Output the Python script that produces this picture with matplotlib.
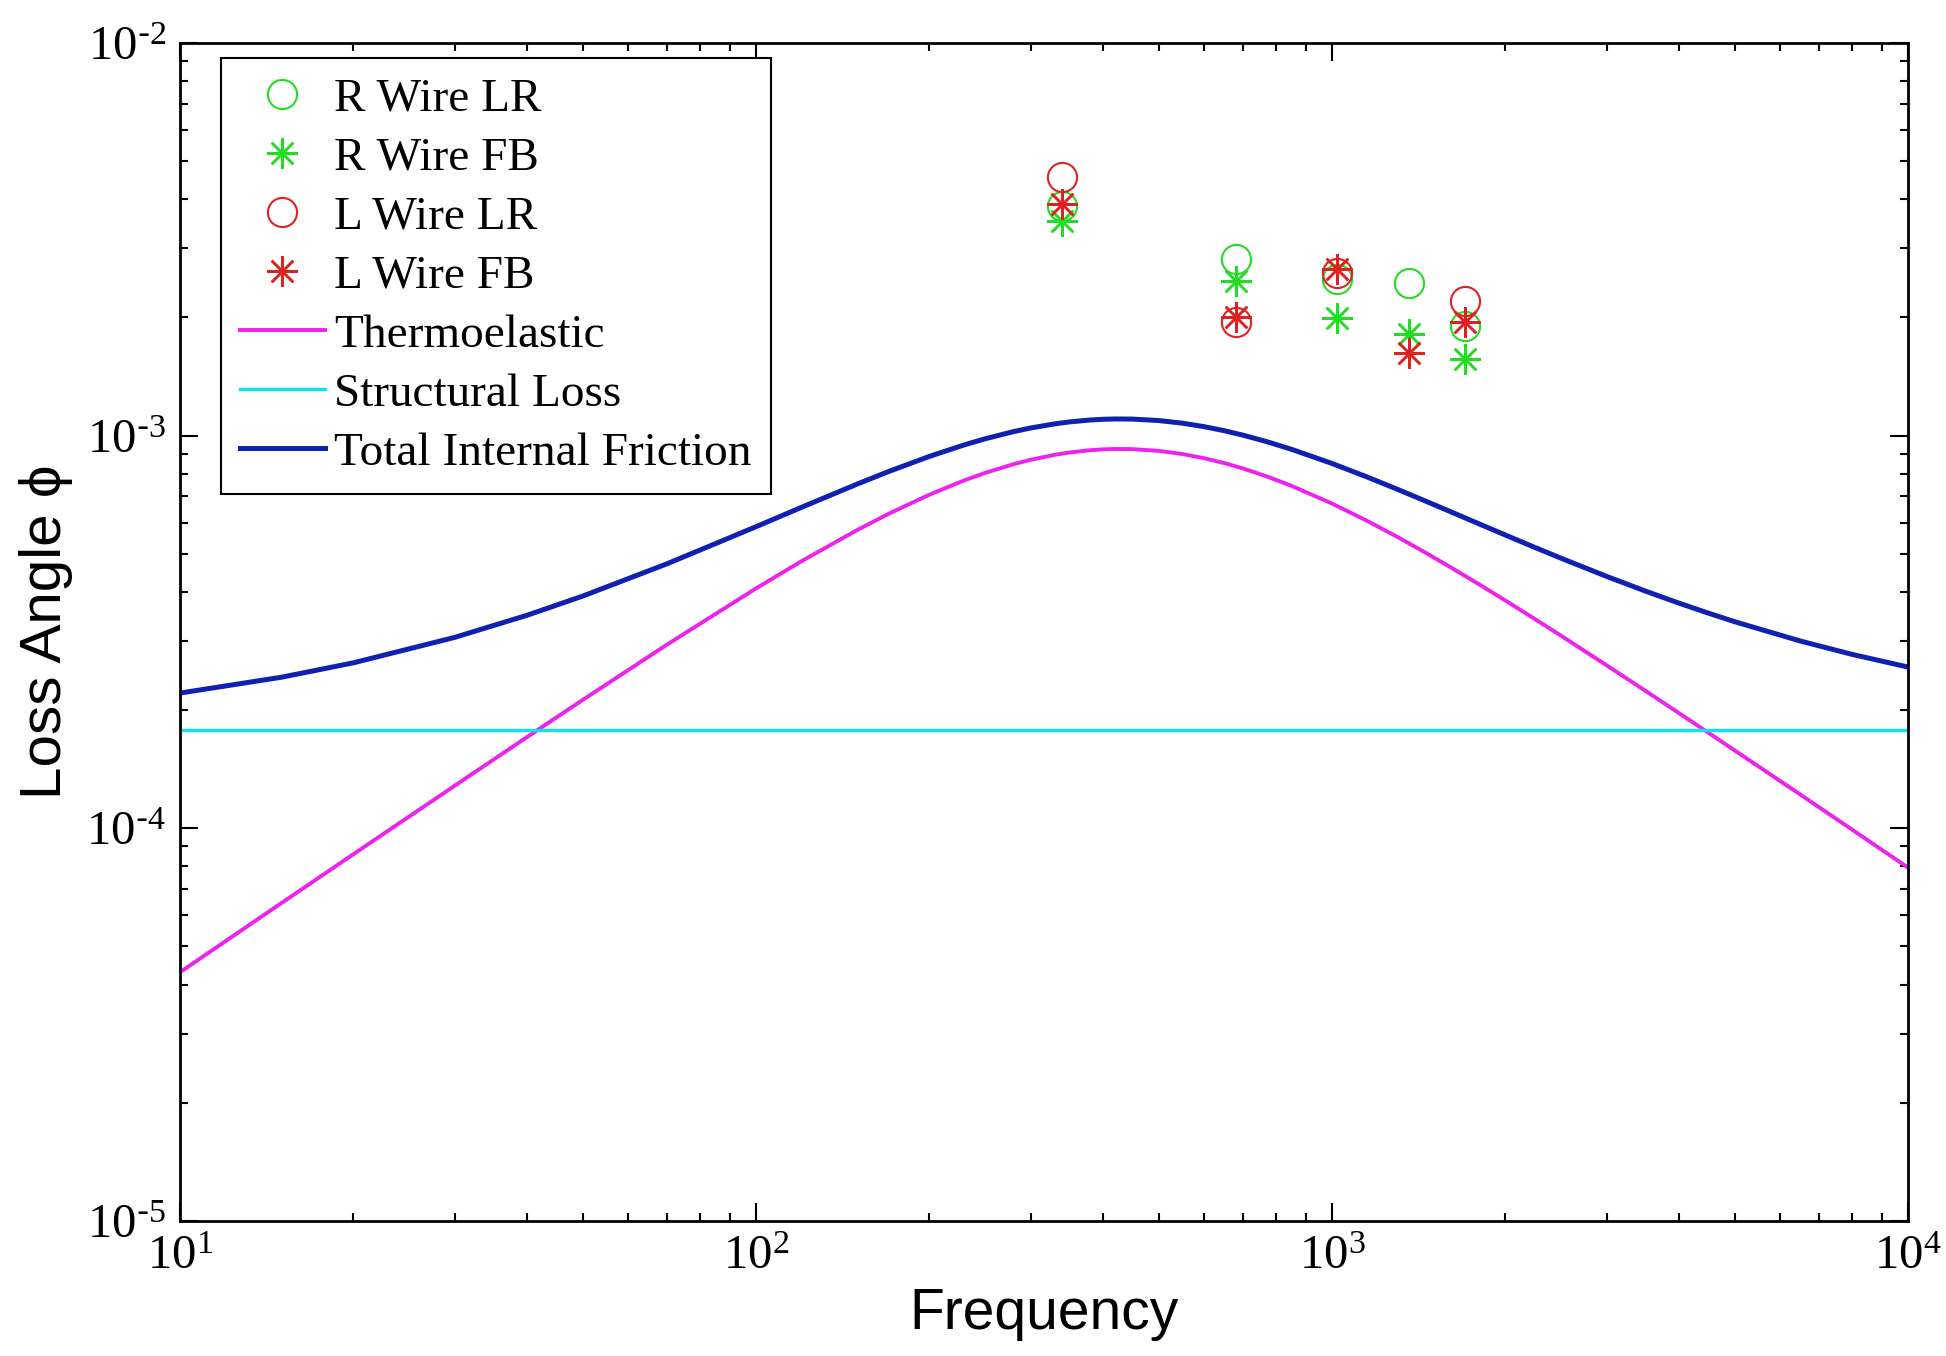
import numpy as np
import matplotlib.pyplot as plt
from matplotlib.ticker import FuncFormatter

# measured points (violin modes)
freq_pts = [340, 680, 1020, 1360, 1700]
r_wire_lr = [3.85e-3, 2.82e-3, 2.50e-3, 2.45e-3, 1.90e-3]
r_wire_fb = [3.52e-3, 2.47e-3, 1.99e-3, 1.82e-3, 1.57e-3]
l_wire_lr = [4.55e-3, 1.95e-3, 2.60e-3, np.nan, 2.20e-3]
l_wire_fb = [3.90e-3, 2.00e-3, 2.65e-3, 1.62e-3, 1.95e-3]

# curves
freq_curve = [10, 15, 20, 30, 40, 50, 70, 100, 120, 150, 170, 200, 230, 250, 280,
              300, 330, 350, 380, 400, 420, 450, 500, 550, 600, 650, 700, 770, 850,
              1000, 1150, 1300, 1450, 1600, 1800, 2000, 2250, 2500, 3000, 3500, 4000,
              4500, 5000, 6500, 8000, 10000]
thermoelastic = [4.30e-5, 6.45e-5, 8.59e-5, 1.284e-4, 1.706e-4, 2.122e-4, 2.934e-4,
                 4.082e-4, 4.790e-4, 5.753e-4, 6.325e-4, 7.074e-4, 7.694e-4, 8.039e-4,
                 8.460e-4, 8.681e-4, 8.935e-4, 9.057e-4, 9.180e-4, 9.226e-4, 9.247e-4,
                 9.240e-4, 9.146e-4, 8.977e-4, 8.759e-4, 8.513e-4, 8.251e-4, 7.875e-4,
                 7.452e-4, 6.714e-4, 6.069e-4, 5.516e-4, 5.043e-4, 4.637e-4, 4.181e-4,
                 3.802e-4, 3.411e-4, 3.091e-4, 2.598e-4, 2.239e-4, 1.966e-4, 1.752e-4,
                 1.579e-4, 1.219e-4, 9.915e-5, 7.94e-5]
total_friction = [2.21e-4, 2.425e-4, 2.639e-4, 3.064e-4, 3.486e-4, 3.902e-4, 4.714e-4,
                  5.862e-4, 6.570e-4, 7.533e-4, 8.105e-4, 8.854e-4, 9.474e-4, 9.819e-4,
                  1.0240e-3, 1.0461e-3, 1.0715e-3, 1.0837e-3, 1.0960e-3, 1.1006e-3,
                  1.1027e-3, 1.1020e-3, 1.0926e-3, 1.0757e-3, 1.0539e-3, 1.0293e-3,
                  1.0031e-3, 9.655e-4, 9.232e-4, 8.494e-4, 7.849e-4, 7.296e-4, 6.823e-4,
                  6.417e-4, 5.961e-4, 5.582e-4, 5.191e-4, 4.871e-4, 4.378e-4, 4.019e-4,
                  3.746e-4, 3.532e-4, 3.359e-4, 2.999e-4, 2.772e-4, 2.574e-4]
structural_freq = [10, 10000]
structural = [1.78e-4, 1.78e-4]

green = '#22dd22'
red = '#dd2222'

plt.rcParams['font.family'] = ['Liberation Serif', 'DejaVu Serif']

fig = plt.figure(figsize=(19.46, 13.56), dpi=100)
ax = fig.add_axes([0.0925, 0.0996, 0.888, 0.8687])

star = (8, 2, 0)
ax.plot(freq_pts, r_wire_lr, ls='none', marker='o', mfc='none', mec=green, ms=21, mew=1.5, label='R Wire LR')
ax.plot(freq_pts, r_wire_fb, ls='none', marker=star, color=green, ms=22, mew=1.8, label='R Wire FB')
ax.plot(freq_pts, l_wire_lr, ls='none', marker='o', mfc='none', mec=red, ms=21, mew=1.5, label='L Wire LR')
ax.plot(freq_pts, l_wire_fb, ls='none', marker=star, color=red, ms=22, mew=1.8, label='L Wire FB')
ax.plot(freq_curve, thermoelastic, color='#ee22ee', lw=2.8, label='Thermoelastic')
ax.plot(structural_freq, structural, color='#11e0ee', lw=2.4, label='Structural Loss')
ax.plot(freq_curve, total_friction, color='#1020b0', lw=3.6, label='Total Internal Friction')

ax.set_xscale('log')
ax.set_yscale('log')
ax.set_xlim(10, 1e4)
ax.set_ylim(1e-5, 1e-2)


def dec_fmt(v, pos):
    e = int(round(np.log10(v)))
    if e < 0:
        return r'$\mathdefault{10^{\text{-}%d}}$' % (-e)
    return r'$\mathdefault{10^{%d}}$' % e


ax.xaxis.set_major_formatter(FuncFormatter(dec_fmt))
ax.yaxis.set_major_formatter(FuncFormatter(dec_fmt))

ax.tick_params(which='both', direction='in', top=True, right=True, width=1.5, labelsize=35, pad=10)
ax.tick_params(which='major', length=13)
ax.tick_params(which='minor', length=6)
for s in ax.spines.values():
    s.set_linewidth(2)

ax.set_xlabel('Frequency', fontsize=41, family=['Liberation Sans', 'DejaVu Sans'], labelpad=6)
ax.set_ylabel('Loss Angle ϕ', fontsize=42, family=['Liberation Sans', 'DejaVu Sans'], labelpad=10)

leg = ax.legend(loc='upper left', bbox_to_anchor=(0.0237, 0.987), borderaxespad=0,
                fontsize=34, numpoints=1, handlelength=1.8, handletextpad=0.2,
                labelspacing=0.34, borderpad=0.4, fancybox=False, framealpha=1,
                edgecolor='black')
leg.get_frame().set_linewidth(1.5)

plt.savefig('out.png', dpi=100)
